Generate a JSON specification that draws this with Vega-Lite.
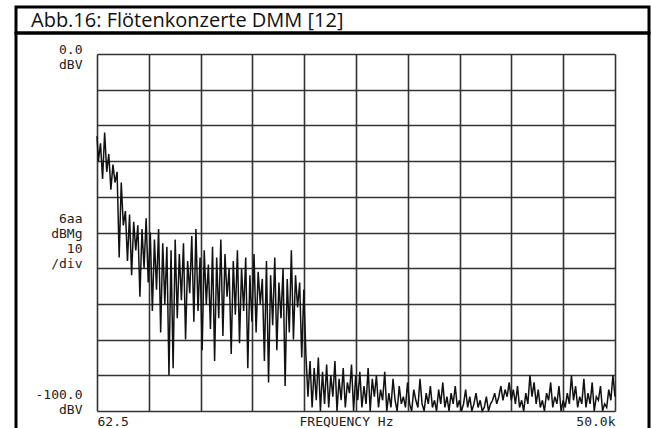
{
  "$schema": "https://vega.github.io/schema/vega-lite/v6.json",
  "padding": {"left": 14, "top": 5, "right": 5, "bottom": 0},
  "background": "white",
  "spacing": 0,
  "bounds": "flush",
  "config": {
    "view": {"stroke": "#000", "strokeWidth": 3},
    "concat": {"spacing": 0}
  },
  "vconcat": [
    {
      "width": 633,
      "height": 26,
      "data": {"values": [{"caption": "Abb.16: Flötenkonzerte DMM [12]"}]},
      "mark": {"type": "text", "align": "left", "baseline": "middle", "dx": 15, "dy": 1, "font": "Open Sans", "fontSize": 20, "color": "#111"},
      "encoding": {
        "text": {"field": "caption", "type": "nominal"},
        "x": {"field": "caption", "type": "nominal", "bandPosition": 0, "axis": null, "scale": {"type": "band", "paddingInner": 0, "paddingOuter": 0}}
      }
    },
    {
      "width": 633,
      "height": 399,
      "data": {"values": [
        {"f": 62.5, "db": -23}, {"f": 200, "db": -30}, {"f": 400, "db": -25}, {"f": 600, "db": -35}, {"f": 800, "db": -22},
        {"f": 1000, "db": -33}, {"f": 1200, "db": -28}, {"f": 1400, "db": -38}, {"f": 1600, "db": -31}, {"f": 1800, "db": -36},
        {"f": 2000, "db": -33}, {"f": 2200, "db": -57}, {"f": 2400, "db": -36}, {"f": 2600, "db": -48}, {"f": 2800, "db": -44},
        {"f": 3000, "db": -58}, {"f": 3200, "db": -45}, {"f": 3400, "db": -62}, {"f": 3600, "db": -47}, {"f": 3800, "db": -55},
        {"f": 4000, "db": -48}, {"f": 4200, "db": -68}, {"f": 4400, "db": -49}, {"f": 4600, "db": -60}, {"f": 4800, "db": -46},
        {"f": 5000, "db": -64}, {"f": 5200, "db": -50}, {"f": 5400, "db": -72}, {"f": 5600, "db": -52}, {"f": 5800, "db": -66},
        {"f": 6000, "db": -49}, {"f": 6200, "db": -78}, {"f": 6400, "db": -53}, {"f": 6600, "db": -70}, {"f": 6800, "db": -54},
        {"f": 7000, "db": -90}, {"f": 7200, "db": -55}, {"f": 7400, "db": -88}, {"f": 7600, "db": -52}, {"f": 7800, "db": -74},
        {"f": 8000, "db": -56}, {"f": 8200, "db": -69}, {"f": 8400, "db": -53}, {"f": 8600, "db": -80}, {"f": 8800, "db": -58},
        {"f": 9000, "db": -67}, {"f": 9200, "db": -51}, {"f": 9400, "db": -75}, {"f": 9600, "db": -49}, {"f": 9800, "db": -72},
        {"f": 10000, "db": -57}, {"f": 10200, "db": -83}, {"f": 10400, "db": -55}, {"f": 10600, "db": -70}, {"f": 10800, "db": -59},
        {"f": 11000, "db": -77}, {"f": 11200, "db": -54}, {"f": 11400, "db": -86}, {"f": 11600, "db": -57}, {"f": 11800, "db": -74},
        {"f": 12000, "db": -52}, {"f": 12200, "db": -79}, {"f": 12400, "db": -56}, {"f": 12600, "db": -68}, {"f": 12800, "db": -60},
        {"f": 13000, "db": -84}, {"f": 13200, "db": -58}, {"f": 13400, "db": -73}, {"f": 13600, "db": -55}, {"f": 13800, "db": -81},
        {"f": 14000, "db": -60}, {"f": 14200, "db": -72}, {"f": 14400, "db": -57}, {"f": 14600, "db": -88}, {"f": 14800, "db": -62},
        {"f": 15000, "db": -75}, {"f": 15200, "db": -56}, {"f": 15400, "db": -78}, {"f": 15600, "db": -61}, {"f": 15800, "db": -70},
        {"f": 16000, "db": -63}, {"f": 16200, "db": -86}, {"f": 16400, "db": -58}, {"f": 16600, "db": -92}, {"f": 16800, "db": -62},
        {"f": 17000, "db": -76}, {"f": 17200, "db": -57}, {"f": 17400, "db": -83}, {"f": 17600, "db": -64}, {"f": 17800, "db": -74},
        {"f": 18000, "db": -60}, {"f": 18200, "db": -93}, {"f": 18400, "db": -63}, {"f": 18600, "db": -78}, {"f": 18800, "db": -55},
        {"f": 19000, "db": -80}, {"f": 19200, "db": -62}, {"f": 19400, "db": -71}, {"f": 19600, "db": -64}, {"f": 19800, "db": -85},
        {"f": 20000, "db": -66}, {"f": 20200, "db": -84}, {"f": 20400, "db": -96}, {"f": 20600, "db": -86}, {"f": 20800, "db": -99},
        {"f": 21000, "db": -88}, {"f": 21200, "db": -97}, {"f": 21400, "db": -85}, {"f": 21600, "db": -100}, {"f": 21800, "db": -89},
        {"f": 22000, "db": -98}, {"f": 22200, "db": -87}, {"f": 22400, "db": -99}, {"f": 22600, "db": -90}, {"f": 22800, "db": -96},
        {"f": 23000, "db": -86}, {"f": 23200, "db": -100}, {"f": 23400, "db": -91}, {"f": 23600, "db": -97}, {"f": 23800, "db": -88},
        {"f": 24000, "db": -99}, {"f": 24200, "db": -92}, {"f": 24400, "db": -95}, {"f": 24600, "db": -87}, {"f": 24800, "db": -100},
        {"f": 25000, "db": -90}, {"f": 25200, "db": -97}, {"f": 25400, "db": -89}, {"f": 25600, "db": -99}, {"f": 25800, "db": -93},
        {"f": 26000, "db": -98}, {"f": 26200, "db": -88}, {"f": 26400, "db": -100}, {"f": 26600, "db": -91}, {"f": 26800, "db": -96},
        {"f": 27000, "db": -90}, {"f": 27200, "db": -99}, {"f": 27400, "db": -94}, {"f": 27600, "db": -97}, {"f": 27800, "db": -89},
        {"f": 28000, "db": -100}, {"f": 28200, "db": -95}, {"f": 28400, "db": -99}, {"f": 28600, "db": -91}, {"f": 28800, "db": -97},
        {"f": 29000, "db": -100}, {"f": 29200, "db": -93}, {"f": 29400, "db": -98}, {"f": 29600, "db": -96}, {"f": 29800, "db": -99},
        {"f": 30000, "db": -92}, {"f": 30200, "db": -98}, {"f": 30400, "db": -100}, {"f": 30600, "db": -94}, {"f": 30800, "db": -97},
        {"f": 31000, "db": -99}, {"f": 31200, "db": -91}, {"f": 31400, "db": -98}, {"f": 31600, "db": -100}, {"f": 31800, "db": -95},
        {"f": 32000, "db": -98}, {"f": 32200, "db": -93}, {"f": 32400, "db": -99}, {"f": 32600, "db": -97}, {"f": 32800, "db": -100},
        {"f": 33000, "db": -94}, {"f": 33200, "db": -98}, {"f": 33400, "db": -92}, {"f": 33600, "db": -99}, {"f": 33800, "db": -96},
        {"f": 34000, "db": -100}, {"f": 34200, "db": -95}, {"f": 34400, "db": -98}, {"f": 34600, "db": -93}, {"f": 34800, "db": -99},
        {"f": 35000, "db": -97}, {"f": 35200, "db": -100}, {"f": 35400, "db": -98}, {"f": 35600, "db": -94}, {"f": 35800, "db": -99},
        {"f": 36000, "db": -96}, {"f": 36200, "db": -100}, {"f": 36400, "db": -98}, {"f": 36600, "db": -95}, {"f": 36800, "db": -99},
        {"f": 37000, "db": -97}, {"f": 37200, "db": -100}, {"f": 37400, "db": -99}, {"f": 37600, "db": -96}, {"f": 37800, "db": -100},
        {"f": 38000, "db": -98}, {"f": 38200, "db": -97}, {"f": 38400, "db": -95}, {"f": 38600, "db": -98}, {"f": 38800, "db": -96},
        {"f": 39000, "db": -93}, {"f": 39200, "db": -97}, {"f": 39400, "db": -94}, {"f": 39600, "db": -96}, {"f": 39800, "db": -92},
        {"f": 40000, "db": -97}, {"f": 40200, "db": -94}, {"f": 40400, "db": -98}, {"f": 40600, "db": -93}, {"f": 40800, "db": -99},
        {"f": 41000, "db": -97}, {"f": 41200, "db": -100}, {"f": 41400, "db": -95}, {"f": 41600, "db": -98}, {"f": 41800, "db": -90},
        {"f": 42000, "db": -96}, {"f": 42200, "db": -92}, {"f": 42400, "db": -98}, {"f": 42600, "db": -94}, {"f": 42800, "db": -99},
        {"f": 43000, "db": -97}, {"f": 43200, "db": -100}, {"f": 43400, "db": -95}, {"f": 43600, "db": -97}, {"f": 43800, "db": -92},
        {"f": 44000, "db": -99}, {"f": 44200, "db": -96}, {"f": 44400, "db": -98}, {"f": 44600, "db": -93}, {"f": 44800, "db": -100},
        {"f": 45000, "db": -97}, {"f": 45200, "db": -99}, {"f": 45400, "db": -95}, {"f": 45600, "db": -98}, {"f": 45800, "db": -90},
        {"f": 46000, "db": -97}, {"f": 46200, "db": -93}, {"f": 46400, "db": -99}, {"f": 46600, "db": -96}, {"f": 46800, "db": -98},
        {"f": 47000, "db": -91}, {"f": 47200, "db": -99}, {"f": 47400, "db": -95}, {"f": 47600, "db": -98}, {"f": 47800, "db": -92},
        {"f": 48000, "db": -100}, {"f": 48200, "db": -96}, {"f": 48400, "db": -97}, {"f": 48600, "db": -93}, {"f": 48800, "db": -100},
        {"f": 49000, "db": -98}, {"f": 49200, "db": -99}, {"f": 49400, "db": -94}, {"f": 49600, "db": -97}, {"f": 49800, "db": -90},
        {"f": 50000, "db": -96}
      ]},
      "mark": {"type": "line", "color": "#111", "strokeWidth": 1.5, "clip": true},
      "encoding": {
        "x": {
          "field": "f",
          "type": "quantitative",
          "scale": {"domain": [62.5, 50000], "range": [81, 599], "nice": false, "zero": false},
          "axis": {
            "values": [62.5, 5056.25, 10050, 15043.75, 20037.5, 25031.25, 30025, 35018.75, 40012.5, 45006.25, 50000],
            "labelExpr": "datum.value == 62.5 ? '62.5' : (datum.value == 50000 ? '50.0k' : '')",
            "labelFlush": true,
            "labelOverlap": false,
            "ticks": false,
            "domain": false,
            "grid": true,
            "gridColor": "#333",
            "gridWidth": 1.6,
            "gridOpacity": 1,
            "offset": -21,
            "labelPadding": 4,
            "labelBaseline": "top",
            "labelFont": "DejaVu Sans Mono",
            "labelFontSize": 13,
            "labelColor": "#222",
            "title": "FREQUENCY Hz",
            "titleFont": "DejaVu Sans Mono",
            "titleFontSize": 13,
            "titleFontWeight": "normal",
            "titleColor": "#222",
            "titleX": 330,
            "titleY": 4,
            "titleAlign": "center",
            "titleBaseline": "top"
          }
        },
        "y": {
          "field": "db",
          "type": "quantitative",
          "scale": {"domain": [-100, 0], "range": [378, 21], "nice": false, "zero": false},
          "axis": {
            "values": [-100, -90, -80, -70, -60, -50, -40, -30, -20, -10, 0],
            "labelExpr": "datum.value == 0 ? ['0.0', 'dBV'] : (datum.value == -100 ? ['-100.0', 'dBV'] : (datum.value == -50 ? ['6aa', 'dBMg', '10', '/div'] : ''))",
            "labelOverlap": false,
            "labelBound": false,
            "ticks": false,
            "domain": false,
            "grid": true,
            "gridColor": "#333",
            "gridWidth": 1.6,
            "gridOpacity": 1,
            "offset": -81,
            "labelPadding": 15,
            "labelAlign": "right",
            "labelLineHeight": 15,
            "labelBaseline": "middle",
            "labelOffset": {"condition": [{"test": "datum.value == -100", "value": -17}, {"test": "datum.value == -50", "value": -14}], "value": -5},
            "labelFont": "DejaVu Sans Mono",
            "labelFontSize": 13,
            "labelColor": "#222",
            "title": null
          }
        }
      }
    }
  ]
}
